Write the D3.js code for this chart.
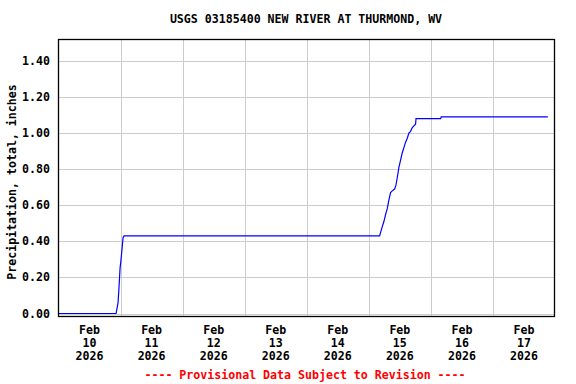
<!DOCTYPE html>
<html>
<head>
<meta charset="utf-8">
<script src="https://cdn.jsdelivr.net/npm/d3@7"></script>
<style>
  body { margin: 0; background: #fff; }
  text { font-family: "DejaVu Sans Mono", monospace; font-weight: bold; font-size: 11.6px; }
</style>
</head>
<body>
<div id="chart"></div>
<script>
// precipitation readings (time, total inches)
var times = [
  "2026-02-10 00:00", "2026-02-10 22:16", "2026-02-10 22:39", "2026-02-10 23:02",
  "2026-02-10 23:25", "2026-02-10 23:48", "2026-02-11 00:11", "2026-02-11 00:35",
  "2026-02-11 00:58", "2026-02-11 01:21",
  "2026-02-15 04:10", "2026-02-15 04:34", "2026-02-15 05:11", "2026-02-15 05:50",
  "2026-02-15 06:30", "2026-02-15 07:07", "2026-02-15 07:46", "2026-02-15 08:25",
  "2026-02-15 09:03", "2026-02-15 09:58", "2026-02-15 10:28", "2026-02-15 10:58",
  "2026-02-15 11:38", "2026-02-15 12:17", "2026-02-15 12:55", "2026-02-15 13:34",
  "2026-02-15 14:14", "2026-02-15 14:50", "2026-02-15 15:30", "2026-02-15 16:09",
  "2026-02-15 16:46", "2026-02-15 17:25", "2026-02-15 18:05", "2026-02-15 18:15",
  "2026-02-16 03:45", "2026-02-16 04:00", "2026-02-17 21:13"
];
var values = [
  0.00, 0.00, 0.03, 0.06,
  0.15, 0.25, 0.30, 0.36,
  0.42, 0.43,
  0.43, 0.45, 0.48, 0.51,
  0.55, 0.58, 0.63, 0.67,
  0.68, 0.69, 0.71, 0.75,
  0.81, 0.85, 0.89, 0.92,
  0.95, 0.97, 1.00, 1.01,
  1.03, 1.04, 1.05, 1.08,
  1.08, 1.09, 1.09
];
var yTicks = [0.0, 0.2, 0.4, 0.6, 0.8, 1.0, 1.2, 1.4];
var dayLabels = ["2026-02-10", "2026-02-11", "2026-02-12", "2026-02-13",
                 "2026-02-14", "2026-02-15", "2026-02-16", "2026-02-17"];
var dayLines = ["2026-02-11", "2026-02-12", "2026-02-13", "2026-02-14",
                "2026-02-15", "2026-02-16", "2026-02-17"];
var title = "USGS 03185400 NEW RIVER AT THURMOND, WV";
var yLabel = "Precipitation, total, inches";
var footer = "---- Provisional Data Subject to Revision ----";

var parseTime = d3.timeParse("%Y-%m-%d %H:%M");
var parseDay = d3.timeParse("%Y-%m-%d");

var data = times.map(function(t, i) {
  return { time: parseTime(t), value: values[i] };
});

var svg = d3.select("#chart").append("svg")
  .attr("width", 576)
  .attr("height", 384);

var plot = { left: 58.5, right: 554.5, top: 39.5, bottom: 316.5 };

var x_scale = d3.scaleTime()
  .domain([parseDay("2026-02-10"), parseDay("2026-02-18")])
  .range([58.5, 555]);

var y_scale = d3.scaleLinear()
  .domain([0, 1.4])
  .range([313.5, 61]);

// grid
svg.append("g").selectAll("line")
  .data(yTicks)
  .enter().append("line")
  .attr("x1", plot.left).attr("x2", plot.right)
  .attr("y1", function(d) { return Math.round(y_scale(d)) + 0.5; })
  .attr("y2", function(d) { return Math.round(y_scale(d)) + 0.5; })
  .attr("stroke", "#cccccc");

svg.append("g").selectAll("line")
  .data(dayLines)
  .enter().append("line")
  .attr("x1", function(d) { return Math.round(x_scale(parseDay(d))) + 0.5; })
  .attr("x2", function(d) { return Math.round(x_scale(parseDay(d))) + 0.5; })
  .attr("y1", plot.top).attr("y2", plot.bottom)
  .attr("stroke", "#cccccc");

// data line
var line = d3.line()
  .x(function(d) { return x_scale(d.time); })
  .y(function(d) { return y_scale(d.value); });

svg.append("path")
  .datum(data)
  .attr("fill", "none")
  .attr("stroke", "#0000ff")
  .attr("stroke-width", 1.2)
  .attr("d", line);

// frame
svg.append("rect")
  .attr("x", plot.left).attr("y", plot.top)
  .attr("width", plot.right - plot.left)
  .attr("height", plot.bottom - plot.top)
  .attr("fill", "none")
  .attr("stroke", "#000")
  .attr("stroke-width", 1.3);

// y tick labels
svg.append("g").selectAll("text")
  .data(yTicks)
  .enter().append("text")
  .attr("x", 50)
  .attr("y", function(d) { return y_scale(d); })
  .attr("dy", "0.35em")
  .attr("text-anchor", "end")
  .text(function(d) { return d.toFixed(2); });

// x labels (centred at noon of each day)
var fmtMon = d3.timeFormat("%b"), fmtDay = d3.timeFormat("%d"), fmtYear = d3.timeFormat("%Y");
var xl = svg.append("g").selectAll("text")
  .data(dayLabels)
  .enter().append("text")
  .attr("text-anchor", "middle")
  .attr("transform", function(d) {
    return "translate(" + x_scale(d3.timeHour.offset(parseDay(d), 12)) + ",0)";
  });
xl.append("tspan").attr("x", 0).attr("y", 334).text(function(d) { return fmtMon(parseDay(d)); });
xl.append("tspan").attr("x", 0).attr("y", 347).text(function(d) { return fmtDay(parseDay(d)); });
xl.append("tspan").attr("x", 0).attr("y", 360).text(function(d) { return fmtYear(parseDay(d)); });

// title
svg.append("text")
  .attr("x", 306).attr("y", 23)
  .attr("text-anchor", "middle")
  .text(title);

// y axis label
svg.append("text")
  .attr("transform", "translate(16,182) rotate(-90)")
  .attr("text-anchor", "middle")
  .text(yLabel);

// footer
svg.append("text")
  .attr("x", 305).attr("y", 379)
  .attr("text-anchor", "middle")
  .attr("fill", "#ff0000")
  .text(footer);
</script>
</body>
</html>
